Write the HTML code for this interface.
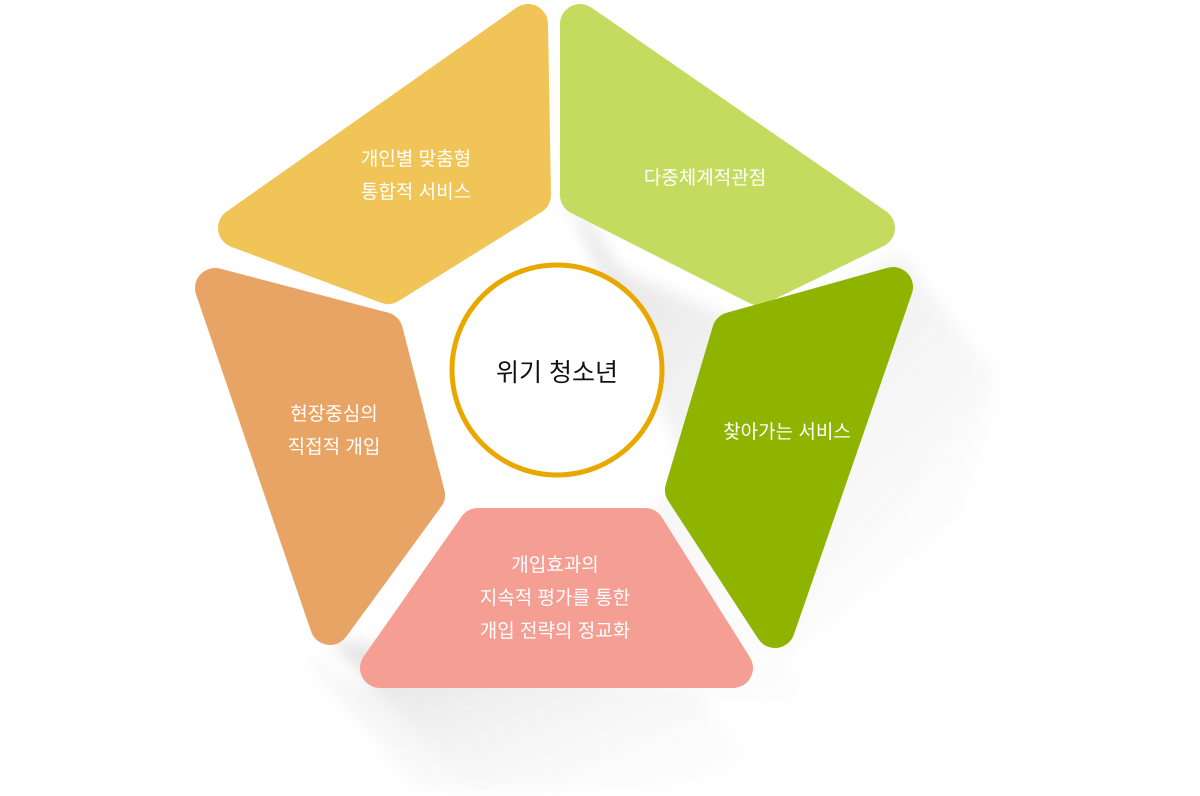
<!DOCTYPE html>
<html><head><meta charset="utf-8"><style>
html,body{margin:0;padding:0;background:#fff;width:1200px;height:796px;overflow:hidden}
svg{display:block}
text{font-family:"Liberation Sans","Noto Sans CJK KR","NanumGothic",sans-serif}
</style></head><body>
<svg width="1200" height="796" viewBox="0 0 1200 796" xmlns="http://www.w3.org/2000/svg">
<defs>
<filter id="b" x="-50%" y="-50%" width="200%" height="200%"><feGaussianBlur stdDeviation="8"/></filter>
<linearGradient id="sg" x1="0" y1="0" x2="1" y2="1"><stop offset="0" stop-color="#cfcfcf"/><stop offset="1" stop-color="#ffffff" stop-opacity="0"/></linearGradient>
</defs>
<g filter="url(#b)" opacity="0.7">
<polygon points="900,260 1000,380 960,520 790,660 840,720 700,700 800,790 420,790 300,650 360,690 440,640 640,520" fill="url(#sg)"/>
<polygon points="560,180 620,270 760,330 900,250 990,370 880,560 780,650 700,500" fill="url(#sg)"/>
<polygon points="330,640 470,790 760,790 700,690" fill="url(#sg)"/>
</g>
<g stroke-linejoin="round" stroke-width="40">
<polygon points="528,24 531,195 388,284 238,228" fill="#f0c457" stroke="#f0c457"/>
<polygon points="580,24 580,195 758,285 875,228" fill="#c5db5f" stroke="#c5db5f"/>
<polygon points="893,287 775,628 685,490 732,332" fill="#8eb400" stroke="#8eb400"/>
<polygon points="478,528 645,528 733,668 380,668" fill="#f59e94" stroke="#f59e94"/>
<polygon points="215,288 383,332 425,495 330,625" fill="#e8a464" stroke="#e8a464"/>
</g>
<circle cx="557" cy="370" r="105" fill="#fff" stroke="#e8a800" stroke-width="5"/>
<text x="557" y="381" font-size="25" text-anchor="middle" fill="#111">위기 청소년</text>
<g fill="#fff" font-size="19" text-anchor="middle">
<text x="416" y="165">개인별 맞춤형</text>
<text x="416" y="198">통합적 서비스</text>
<text x="705" y="184">다중체계적관점</text>
<text x="787" y="438">찾아가는 서비스</text>
<text x="334" y="420">현장중심의</text>
<text x="334" y="453">직접적 개입</text>
<text x="555" y="571">개입효과의</text>
<text x="555" y="604">지속적 평가를 통한</text>
<text x="555" y="637">개입 전략의 정교화</text>
</g>
</svg>
</body></html>
